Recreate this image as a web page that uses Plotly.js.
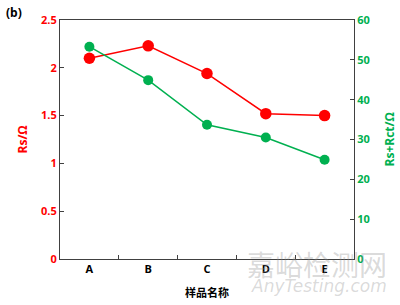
<!DOCTYPE html>
<html>
<head>
<meta charset="utf-8">
<script src="https://cdn.plot.ly/plotly-3.0.1.min.js"></script>
<style>html,body{margin:0;padding:0;background:#fff;}#chart{width:400px;height:305px;}</style>
</head>
<body>
<div id="chart"></div>
<script>
const categories = ["A", "B", "C", "D", "E"];
const rsValues = [2.10, 2.23, 1.94, 1.52, 1.50];
const rsRctValues = [53.3, 44.9, 33.7, 30.5, 24.9];
const leftTicks = [0, 0.5, 1, 1.5, 2, 2.5];
const leftTickText = ["0", "0.5", "1", "1.5", "2", "2.5"];
const rightTicks = [0, 10, 20, 30, 40, 50, 60];

const RED = "#ff0000", GREEN = "#00b050", AXIS = "#404040";
const FONT = "'Open Sans', 'Noto Sans CJK SC', sans-serif";
const WM = "rgba(140,140,140,0.32)";

const traces = [
  {x: categories, y: rsRctValues, yaxis: "y2", type: "scatter", mode: "lines+markers",
   line: {color: GREEN, width: 1.5}, marker: {color: GREEN, size: 10}, cliponaxis: false},
  {x: categories, y: rsValues, yaxis: "y", type: "scatter", mode: "lines+markers",
   line: {color: RED, width: 1.5}, marker: {color: RED, size: 11.5}, cliponaxis: false}
];

const layout = {
  width: 400, height: 305,
  margin: {l: 60, r: 46, t: 20, b: 46},
  paper_bgcolor: "#fff", plot_bgcolor: "#fff",
  showlegend: false,
  font: {family: FONT, size: 11, color: "#000"},
  xaxis: {
    type: "category", range: [-0.5, 4.5],
    showline: true, linecolor: AXIS, linewidth: 1, mirror: true,
    ticks: "inside", tickson: "boundaries", ticklen: 4, tickcolor: AXIS,
    showgrid: false, zeroline: false,
    tickfont: {family: FONT, size: 11, color: "#000", weight: "bold"}
  },
  yaxis: {
    range: [0, 2.5], tickvals: leftTicks, ticktext: leftTickText,
    showline: true, linecolor: AXIS, linewidth: 1,
    ticks: "inside", ticklen: 4, tickcolor: AXIS,
    showgrid: false, zeroline: false,
    tickfont: {family: FONT, size: 11, color: RED, weight: "bold"}
  },
  yaxis2: {
    overlaying: "y", side: "right", range: [0, 60], tickvals: rightTicks,
    showline: true, linecolor: AXIS, linewidth: 1,
    ticks: "inside", ticklen: 4, tickcolor: AXIS,
    showgrid: false, zeroline: false,
    tickfont: {family: FONT, size: 11, color: GREEN, weight: "bold"}
  },
  annotations: [
    {text: "嘉峪检测网", xref: "paper", yref: "paper", x: 1.12, y: -0.02, xanchor: "right", yanchor: "middle",
     showarrow: false, font: {family: "'Noto Sans CJK SC', sans-serif", size: 28, color: WM}},
    {text: "<i>AnyTesting.com</i>", xref: "paper", yref: "paper", x: 1.12, y: -0.115, xanchor: "right", yanchor: "middle",
     showarrow: false, font: {family: "'DejaVu Sans', sans-serif", size: 17, color: WM}},
    {text: "<b>(b)</b>", xref: "paper", yref: "paper", x: 0, xshift: -60 + 4, y: 1, yshift: 8, xanchor: "left", yanchor: "middle",
     showarrow: false, font: {family: FONT, size: 12, color: "#000"}},
    {text: "<b>Rs/Ω</b>", xref: "paper", yref: "paper", x: 0, xshift: -38, y: 0.5, textangle: -90,
     xanchor: "center", yanchor: "middle", showarrow: false, font: {family: FONT, size: 12, color: RED}},
    {text: "<b>Rs+Rct/Ω</b>", xref: "paper", yref: "paper", x: 1, xshift: 35, y: 0.5, textangle: -90,
     xanchor: "center", yanchor: "middle", showarrow: false, font: {family: FONT, size: 12, color: GREEN}},
    {text: "<b>样品名称</b>", xref: "paper", yref: "paper", x: 0.5, y: 0, yshift: -33,
     xanchor: "center", yanchor: "middle", showarrow: false, font: {family: "'Noto Sans CJK SC', sans-serif", size: 11, color: "#000"}}
  ]
};

Plotly.newPlot("chart", traces, layout, {staticPlot: true, displayModeBar: false});
</script>
</body>
</html>
